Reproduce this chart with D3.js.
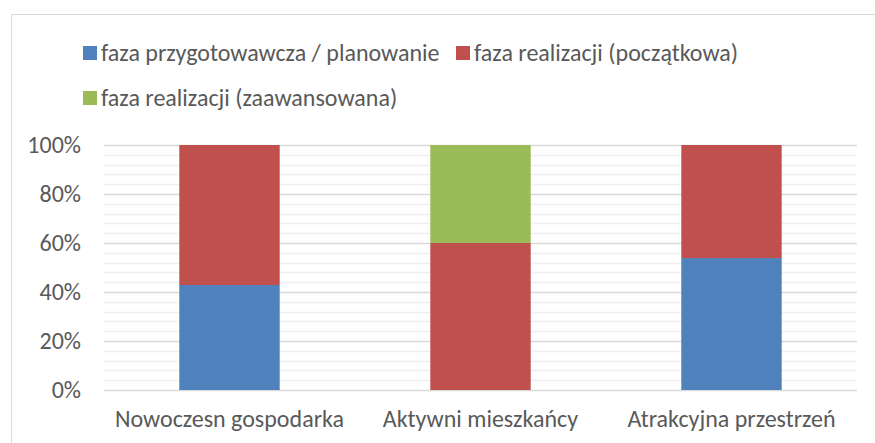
<!DOCTYPE html>
<html>
<head>
<meta charset="utf-8">
<style>
body { margin: 0; background: #fff; }
text { font-family: Calibri, Carlito, "Open Sans", sans-serif; fill: #595959; }
</style>
</head>
<body>
<svg width="875" height="443"></svg>
<script src="https://cdn.jsdelivr.net/npm/d3@7/dist/d3.min.js"></script>
<script>
// data
var categories = ["Nowoczesn gospodarka", "Aktywni mieszkańcy", "Atrakcyjna przestrzeń"];
var seriesNames = ["faza przygotowawcza / planowanie", "faza realizacji (początkowa)", "faza realizacji (zaawansowana)"];
var seriesColors = ["#4f81bd", "#c0504d", "#9bbb59"];
var planowanie = [42.86, 0, 53.85];
var poczatkowa = [57.14, 60, 46.15];
var zaawansowana = [0, 40, 0];
var yTicks = [0, 20, 40, 60, 80, 100];

var svg = d3.select("svg");

// chart frame
svg.append("rect")
    .attr("x", 11.5).attr("y", 14.5)
    .attr("width", 900).attr("height", 500)
    .attr("fill", "none")
    .attr("stroke", "#d9d9d9");

var x = d3.scaleBand().domain(categories).range([104, 857]).paddingInner(0.6).paddingOuter(0.3);
var y = d3.scaleLinear().domain([0, 100]).range([390, 145]);

// minor gridlines every 4%
svg.append("g").selectAll("line")
    .data(d3.range(0, 101, 4).filter(function(v) { return v % 20 != 0; }))
    .enter().append("line")
      .attr("x1", 104).attr("x2", 857)
      .attr("y1", function(d) { return Math.round(y(d)) + 0.5; })
      .attr("y2", function(d) { return Math.round(y(d)) + 0.5; })
      .attr("stroke", "#f0f0f0").attr("stroke-width", 1.5);

// major gridlines
svg.append("g").selectAll("line")
    .data(yTicks)
    .enter().append("line")
      .attr("x1", 104).attr("x2", 857)
      .attr("y1", function(d) { return Math.round(y(d)) + 0.5; })
      .attr("y2", function(d) { return Math.round(y(d)) + 0.5; })
      .attr("stroke", "#d9d9d9").attr("stroke-width", 1.5);

// stacked bars
var rows = categories.map(function(c, i) {
  return { cat: c, s0: planowanie[i], s1: poczatkowa[i], s2: zaawansowana[i] };
});
var stack = d3.stack().keys(["s0", "s1", "s2"])(rows);

svg.append("g").selectAll("g")
    .data(stack)
    .enter().append("g")
      .attr("fill", function(d, i) { return seriesColors[i]; })
    .selectAll("rect")
    .data(function(d) { return d; })
    .enter().append("rect")
      .attr("x", function(d) { return x(d.data.cat); })
      .attr("width", x.bandwidth())
      .attr("y", function(d) { return y(d[1]); })
      .attr("height", function(d) { return y(d[0]) - y(d[1]); });

// y axis labels
svg.append("g").selectAll("text")
    .data(yTicks)
    .enter().append("text")
      .attr("x", 81)
      .attr("y", function(d) { return y(d); })
      .attr("dy", "0.35em")
      .attr("text-anchor", "end")
      .style("font-size", "24px")
      .text(function(d) { return d + "%"; });

// category labels
svg.append("g").selectAll("text")
    .data(categories)
    .enter().append("text")
      .attr("x", function(d) { return x(d) + x.bandwidth() / 2; })
      .attr("y", 427)
      .attr("text-anchor", "middle")
      .style("font-size", "24px")
      .text(function(d) { return d; });

// legend
var legendPos = [[83, 46], [456, 46], [83, 91]];
var legend = svg.append("g").selectAll("g")
    .data(seriesNames)
    .enter().append("g")
      .attr("transform", function(d, i) { return "translate(" + legendPos[i][0] + "," + legendPos[i][1] + ")"; });

legend.append("rect")
    .attr("width", 14).attr("height", 14)
    .attr("fill", function(d, i) { return seriesColors[i]; });

legend.append("text")
    .attr("x", 18).attr("y", 7)
    .attr("dy", "0.35em")
    .style("font-size", "24px")
    .text(function(d) { return d; });
</script>
</body>
</html>
